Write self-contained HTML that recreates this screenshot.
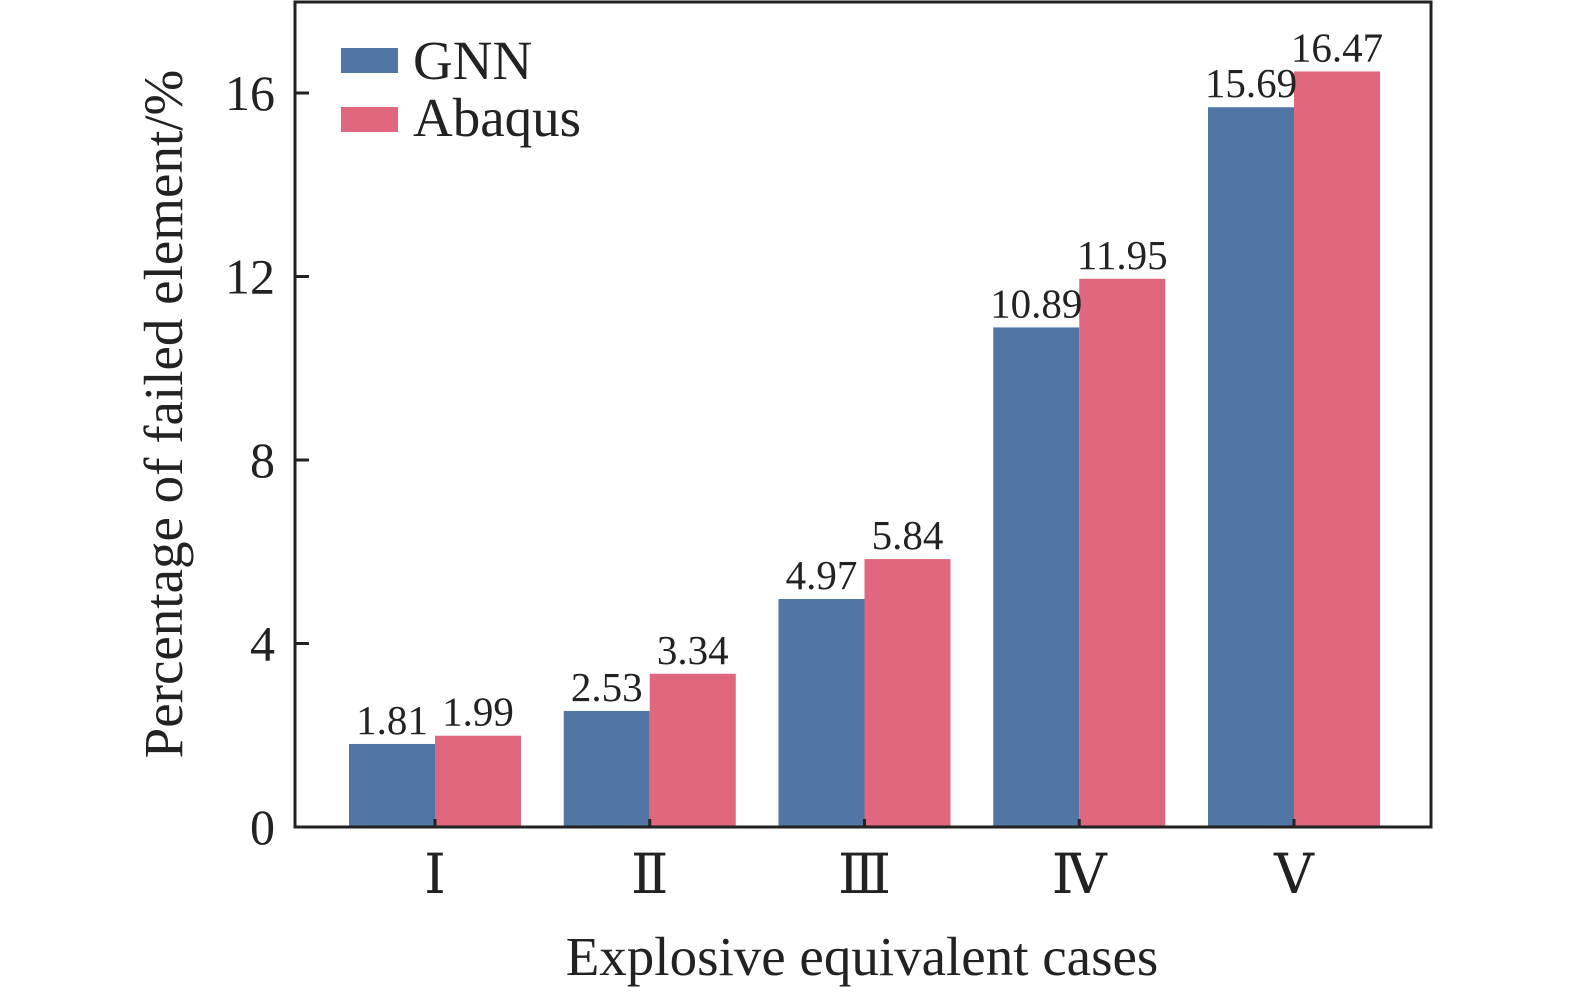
<!DOCTYPE html>
<html><head><meta charset="utf-8"><style>
html,body{margin:0;padding:0;background:#fff;overflow:hidden;width:1575px;height:997px;}
svg{display:block;font-family:"Liberation Serif","DejaVu Serif",serif;}
</style></head><body>
<svg id="chart" width="1575" height="997" viewBox="0 0 1575 997">
<g id="bars"></g>
<g id="labels"></g>
<g id="axes"></g>
<text x="862" y="975" text-anchor="middle" font-size="55" fill="#222">Explosive equivalent cases</text>
<text transform="translate(182,414) rotate(-90)" text-anchor="middle" font-size="55" fill="#222">Percentage of failed element/%</text>
<g>
<rect x="341" y="48" width="57" height="25" fill="#5175a5"/>
<text x="413" y="79" font-size="55" fill="#222">GNN</text>
<rect x="341" y="107" width="57" height="25" fill="#e0677d"/>
<text x="413" y="136" font-size="55" fill="#222">Abaqus</text>
</g>
</svg>
<script>
const categories = ["Ⅰ","Ⅱ","Ⅲ","Ⅳ","Ⅴ"];
const gnnValues = [1.81,2.53,4.97,10.89,15.69];
const abaqusValues = [1.99,3.34,5.84,11.95,16.47];
const yTicks = [0,4,8,12,16];
const seriesNames = ["GNN","Abaqus"];
const colors = ["#5175a5","#e0677d"];

const NS="http://www.w3.org/2000/svg";
const L=295,R=1431,T=2,B=827;
const y0px=827, perUnit=(827-93)/16;
function yScale(v){return y0px - v*perUnit;}
function xCenter(i){return 435 + i*214.75;}
const bw=86;
function mk(tag,attrs,parent){const e=document.createElementNS(NS,tag);for(const k in attrs)e.setAttribute(k,attrs[k]);parent.appendChild(e);return e;}
const bars=document.getElementById('bars'),labels=document.getElementById('labels'),axes=document.getElementById('axes');
[gnnValues,abaqusValues].forEach((vals,s)=>{
  vals.forEach((v,i)=>{
    const x = s===0 ? xCenter(i)-bw : xCenter(i);
    const r=mk('rect',{x:x,y:yScale(v),width:bw,height:y0px-yScale(v),fill:colors[s]},bars);
    
    
    const t=mk('text',{x:x+bw/2,y:yScale(v)-10,'text-anchor':'middle','font-size':41,fill:'#222'},labels);
    t.textContent=v.toFixed(2);
    
    
  });
});
const f=mk('rect',{x:L,y:T,width:R-L,height:B-T,fill:'none',stroke:'#222','stroke-width':3},axes);


yTicks.forEach(v=>{
  const y=yScale(v);
  mk('line',{x1:L,x2:L+14,y1:y,y2:y,stroke:'#222','stroke-width':3},axes);
  const t=mk('text',{x:L-20,y:y+17,'text-anchor':'end','font-size':50,fill:'#222'},axes);
  t.textContent=v;
  
  
});
categories.forEach((c,i)=>{
  const x=xCenter(i);
  mk('line',{x1:x,x2:x,y1:B,y2:B-8,stroke:'#222','stroke-width':3},axes);
  const t=mk('text',{x:x,y:893,'text-anchor':'middle','font-size':55,fill:'#222'},axes);
  t.textContent=c;
  
  
});
</script>
</body></html>
